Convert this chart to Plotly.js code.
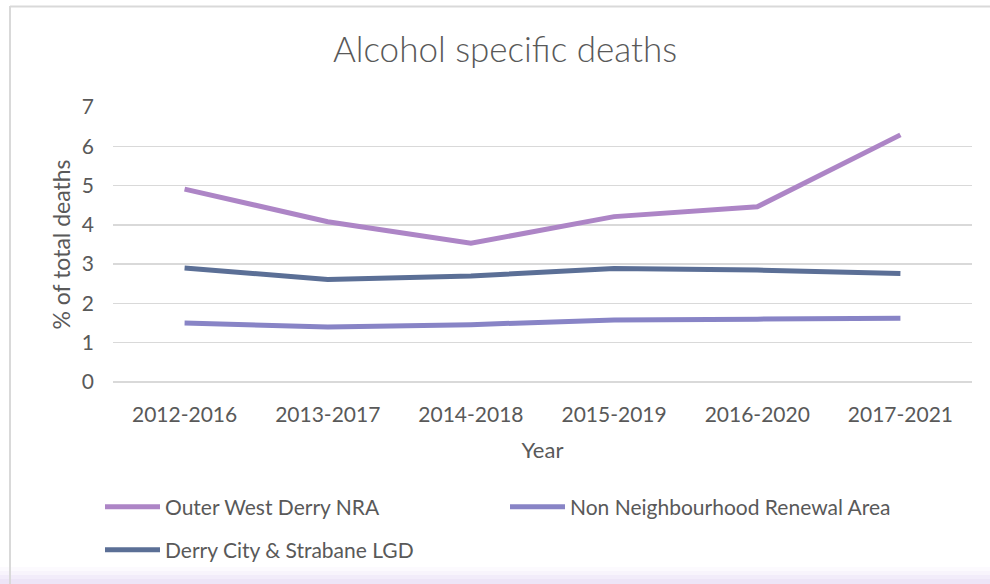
<!DOCTYPE html>
<html>
<head>
<meta charset="utf-8">
<script src="https://cdn.plot.ly/plotly-3.0.1.min.js"></script>
<style>html,body{margin:0;padding:0;background:#fff;}#chart{width:990px;height:584px;}</style>
</head>
<body>
<div id="chart"></div>
<script>
const years = ["2012-2016", "2013-2017", "2014-2018", "2015-2019", "2016-2020", "2017-2021"];
const outerWestDerry = [4.91, 4.08, 3.53, 4.21, 4.46, 6.29];
const nonNRA = [1.50, 1.40, 1.46, 1.58, 1.60, 1.62];
const derryStrabane = [2.90, 2.61, 2.70, 2.89, 2.85, 2.76];
const seriesNames = ["Outer West Derry NRA", "Non Neighbourhood Renewal Area", "Derry City & Strabane LGD"];
const seriesColors = ["#ad85c6", "#8884c6", "#5b6f96"];
const yTicks = [0, 1, 2, 3, 4, 5, 6, 7];

const FONT = "Lato, 'Open Sans', sans-serif";
const TXT = "#595959";
const W = 990, H = 584;
const mL = 113, mR = 18, mT = 107, mB = 202;
const pw = W - mL - mR, ph = H - mT - mB;
const px = x => (x - mL) / pw;
const py = y => (H - mB - y) / ph;

const vals = [outerWestDerry, nonNRA, derryStrabane];
const traces = vals.map((v, i) => ({
  type: "scatter", mode: "lines", x: years, y: v, name: seriesNames[i],
  line: {color: seriesColors[i], width: 5, shape: "linear"},
  legend: i === 2 ? "legend2" : "legend",
  cliponaxis: false, hoverinfo: "x+y+name"
}));

const legendCommon = {
  orientation: "h", xanchor: "left", yanchor: "middle",
  font: {family: FONT, size: 21, color: TXT},
  bgcolor: "rgba(0,0,0,0)", itemwidth: 55, entrywidth: 335, entrywidthmode: "pixels",
  tracegroupgap: 0, itemclick: false
};

// bottom lavender fade
const fadeShapes = [];
const fadeSteps = [[567, 571, 0.15], [571, 575, 0.35], [575, 579, 0.6], [579, 584, 0.85]];
fadeSteps.forEach(s => fadeShapes.push({
  type: "rect", xref: "paper", yref: "paper", x0: px(0), x1: px(990), y0: py(s[1]), y1: py(s[0]),
  line: {width: 0}, fillcolor: "rgba(234,224,246," + s[2] + ")", layer: "below"
}));

const layout = {
  width: W, height: H,
  margin: {l: mL, r: mR, t: mT, b: mB, pad: 0},
  paper_bgcolor: "#ffffff", plot_bgcolor: "#ffffff",
  font: {family: FONT, color: TXT},
  title: {text: "Alcohol specific deaths", font: {family: FONT, size: 35, color: TXT, weight: 300},
          x: 505 / W, xanchor: "center", xref: "container", y: 1 - 50 / H, yanchor: "middle", yref: "container"},
  xaxis: {type: "category", range: [-0.5, 5.5], showgrid: false, zeroline: false, showline: false,
          ticks: "", tickfont: {family: FONT, size: 21, color: TXT}, ticklabelstandoff: 18,
          title: {text: "Year", font: {family: FONT, size: 22, color: TXT}, standoff: 17}},
  yaxis: {range: [0, 7], tickvals: yTicks, ticktext: yTicks.map(String), showgrid: true,
          gridcolor: "#d9d9d9", gridwidth: 1.5, zeroline: true, zerolinecolor: "#d9d9d9", zerolinewidth: 1.5,
          showline: false, ticks: "", tickfont: {family: FONT, size: 21, color: TXT}, ticklabelstandoff: 18,
          title: {text: "% of total deaths", font: {family: FONT, size: 23, color: TXT}, standoff: 4}},
  legend: Object.assign({}, legendCommon, {x: px(100), y: py(507)}),
  legend2: Object.assign({}, legendCommon, {x: px(100), y: py(550)}),
  shapes: fadeShapes.concat([
    {type: "line", xref: "paper", yref: "paper", x0: px(10), x1: px(990), y0: py(6.5), y1: py(6.5),
     line: {color: "#d9d9d9", width: 2}, layer: "below"},
    {type: "line", xref: "paper", yref: "paper", x0: px(10), x1: px(10), y0: py(6), y1: py(584),
     line: {color: "#d9d9d9", width: 2}, layer: "below"}
  ]),
  showlegend: true
};

Plotly.newPlot("chart", traces, layout, {displayModeBar: false, staticPlot: true});
</script>
</body>
</html>
